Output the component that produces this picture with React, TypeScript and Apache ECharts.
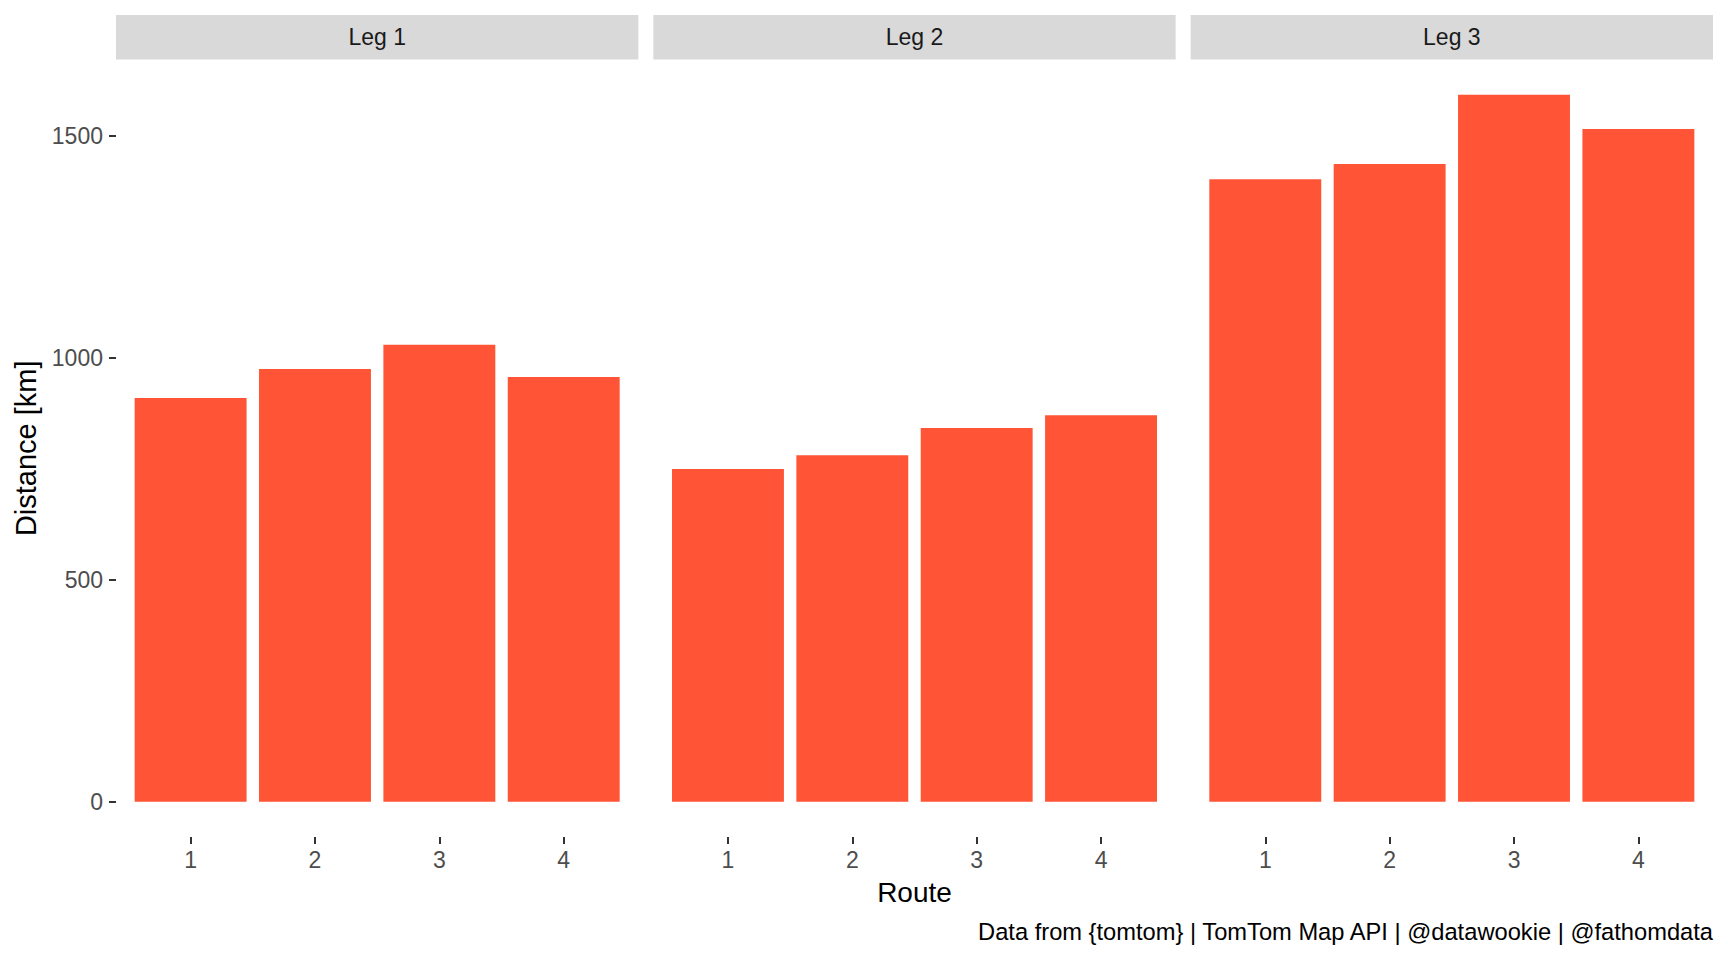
import React, { useEffect, useRef } from "react";
import * as echarts from "echarts";

const legs = ["Leg 1", "Leg 2", "Leg 3"];
const routes = ["1", "2", "3", "4"];
const leg1 = [910, 975, 1030, 957];
const leg2 = [750, 781, 842, 871];
const leg3 = [1403, 1437, 1593, 1516];
const yTicks = [0, 500, 1000, 1500];
const xTitle = "Route";
const yTitle = "Distance [km]";
const caption = "Data from {tomtom} | TomTom Map API | @datawookie | @fathomdata";

const W = 1728;
const H = 960;
const FONT = "'Liberation Sans', Arial, Helvetica, sans-serif";
const BAR = "#FF5536";

export default function App() {
  const ref = useRef<HTMLDivElement>(null);
  useEffect(() => {
    if (!ref.current) return;
    const chart = echarts.init(ref.current, null, { renderer: "svg", width: W, height: H });
    const series = [leg1, leg2, leg3];
    const all = series.flat();
    const maxV = Math.max(...all);
    const yMin = -0.05 * maxV;
    const yMax = 1.05 * maxV;

    const plotLeft = 116;
    const plotRight = 1713;
    const gap = 15;
    const panelW = (plotRight - plotLeft - 2 * gap) / 3;
    const stripTop = 15;
    const stripH = 44.5;
    const panelTop = stripTop + stripH;
    const panelBottom = 837;
    const unit = panelW / 4.2;
    const inset = 0.1 * unit;

    const grids: any[] = [];
    const xAxes: any[] = [];
    const yAxes: any[] = [];
    const ser: any[] = [];
    const graphics: any[] = [];

    legs.forEach((leg, i) => {
      const pl = plotLeft + i * (panelW + gap);
      grids.push({
        left: pl + inset,
        width: panelW - 2 * inset,
        top: panelTop,
        height: panelBottom - panelTop,
        containLabel: false,
      });
      xAxes.push({
        type: "category",
        gridIndex: i,
        data: routes,
        boundaryGap: true,
        position: "bottom",
        axisLine: { show: false, onZero: false },
        axisTick: {
          show: true,
          alignWithLabel: true,
          length: 7,
          lineStyle: { color: "#333333", width: 2 },
        },
        axisLabel: {
          margin: 11,
          fontSize: 23,
          color: "#4D4D4D",
          fontFamily: FONT,
        },
        splitLine: { show: false },
      });
      yAxes.push({
        type: "value",
        gridIndex: i,
        min: yMin,
        max: yMax,
        offset: inset,
        show: i === 0,
        axisLine: { show: false, onZero: false },
        axisTick: {
          show: i === 0,
          length: 7,
          customValues: yTicks,
          lineStyle: { color: "#333333", width: 2 },
        },
        axisLabel: {
          show: i === 0,
          customValues: yTicks,
          formatter: (v: number) => String(v),
          margin: 13,
          fontSize: 23,
          color: "#4D4D4D",
          fontFamily: FONT,
        },
        splitLine: { show: false },
      });
      ser.push({
        type: "bar",
        xAxisIndex: i,
        yAxisIndex: i,
        data: series[i],
        barWidth: "90%",
        itemStyle: { color: BAR },
        silent: true,
      });
      graphics.push({
        type: "rect",
        shape: { x: pl, y: stripTop, width: panelW, height: stripH },
        style: { fill: "#D9D9D9" },
        silent: true,
      });
      graphics.push({
        type: "text",
        x: pl + panelW / 2,
        y: stripTop + stripH / 2,
        style: {
          text: leg,
          fontSize: 23,
          fontFamily: FONT,
          fill: "#1A1A1A",
          align: "center",
          verticalAlign: "middle",
        },
        silent: true,
      });
    });

    graphics.push({
      type: "text",
      x: (plotLeft + plotRight) / 2,
      y: 892,
      style: {
        text: xTitle,
        fontSize: 28,
        fontFamily: FONT,
        fill: "#000000",
        align: "center",
        verticalAlign: "middle",
      },
    });
    graphics.push({
      type: "text",
      x: 26,
      y: (panelTop + panelBottom) / 2,
      rotation: Math.PI / 2,
      style: {
        text: yTitle,
        fontSize: 29,
        fontFamily: FONT,
        fill: "#000000",
        align: "center",
        verticalAlign: "middle",
      },
    });
    graphics.push({
      type: "text",
      x: plotRight,
      y: 932,
      style: {
        text: caption,
        fontSize: 23.7,
        fontFamily: FONT,
        fill: "#000000",
        align: "right",
        verticalAlign: "middle",
      },
    });

    chart.setOption({
      animation: false,
      backgroundColor: "#FFFFFF",
      grid: grids,
      xAxis: xAxes,
      yAxis: yAxes,
      series: ser,
      graphic: graphics,
    });
    return () => chart.dispose();
  }, []);
  return (
    <div
      ref={ref}
      style={{ position: "fixed", left: 0, top: 0, width: W, height: H, background: "#fff" }}
    />
  );
}
